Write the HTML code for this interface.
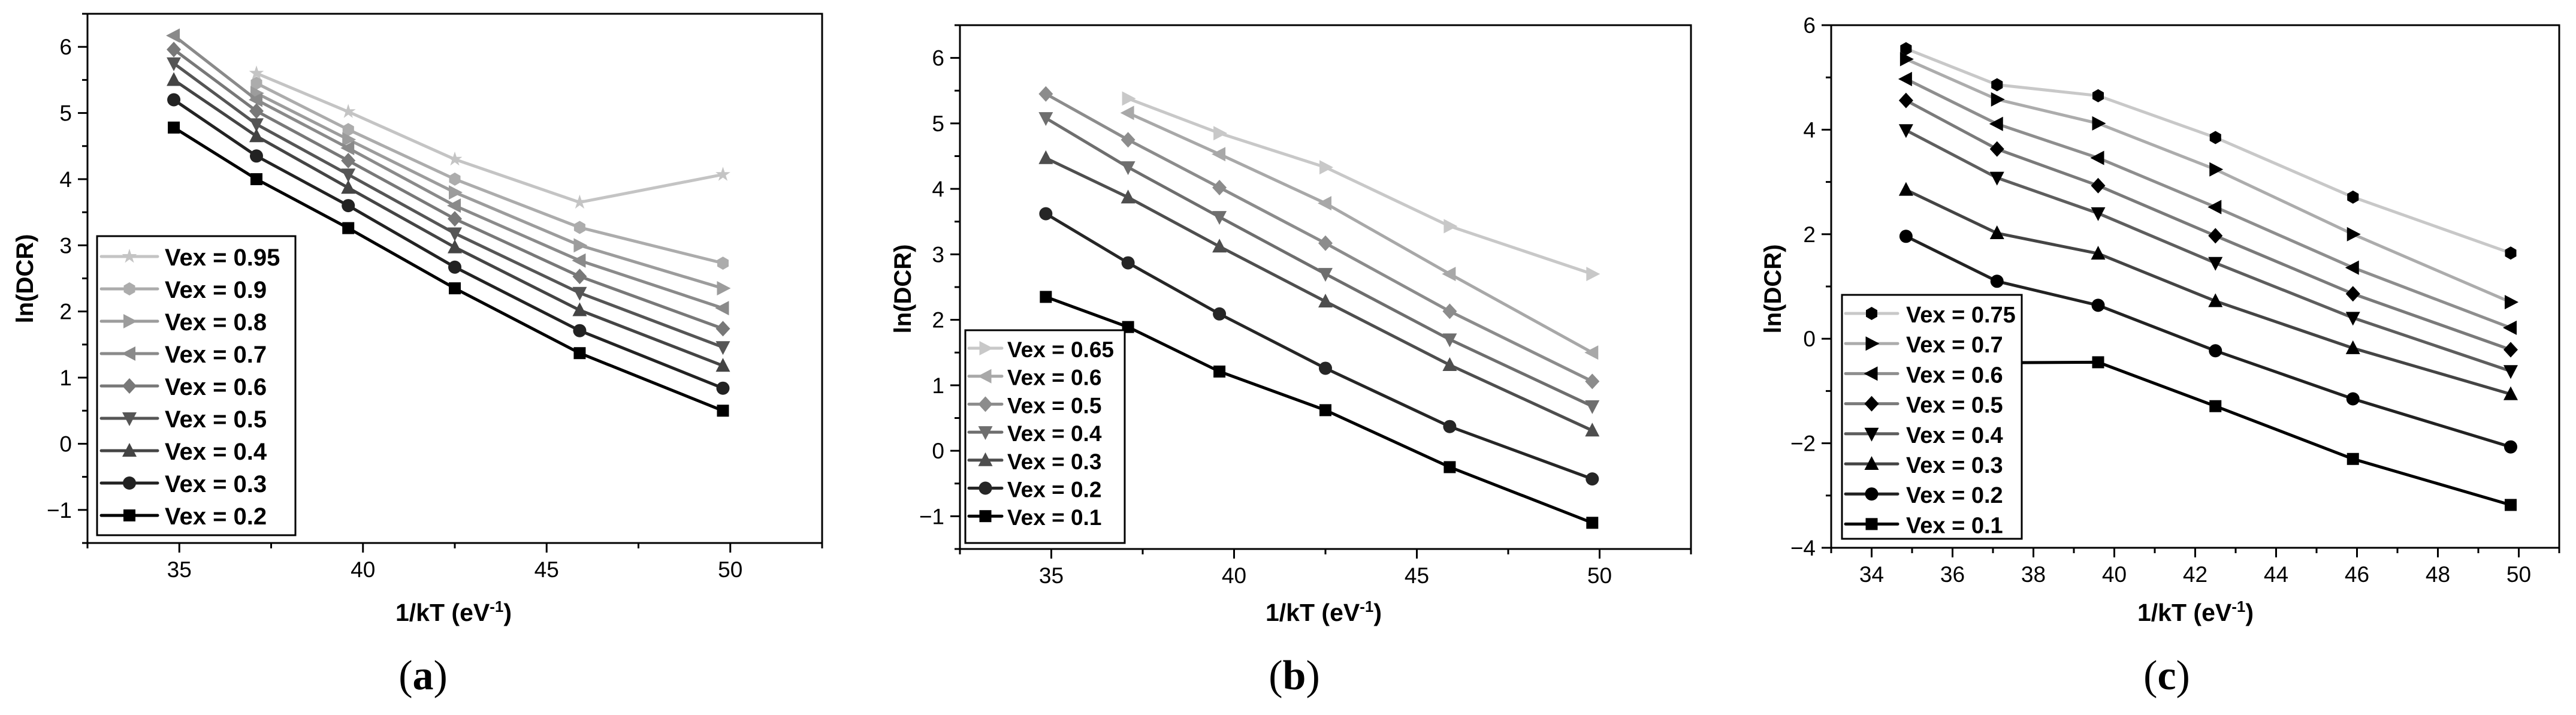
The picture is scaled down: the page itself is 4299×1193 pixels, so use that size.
<!DOCTYPE html>
<html><head><meta charset="utf-8"><style>
html,body{margin:0;padding:0;background:#fff;}
svg{display:block;font-family:"Liberation Sans",sans-serif;}
</style></head><body>
<svg id="fig" width="4299" height="1193" viewBox="0 0 4299 1193" xmlns="http://www.w3.org/2000/svg"></svg>
<script>
const xPts = [34.85, 37.1, 39.6, 42.5, 45.9, 49.8];
// Panel (a)
const aLabels = ["Vex = 0.95","Vex = 0.9","Vex = 0.8","Vex = 0.7","Vex = 0.6","Vex = 0.5","Vex = 0.4","Vex = 0.3","Vex = 0.2"];
const aV095 = [null, 5.6, 5.02, 4.3, 3.65, 4.07];
const aV09  = [null, 5.45, 4.75, 4.0, 3.27, 2.73];
const aV08  = [null, 5.3, 4.6, 3.8, 3.0, 2.35];
const aV07  = [6.17, 5.2, 4.47, 3.6, 2.77, 2.05];
const aV06  = [5.96, 5.03, 4.28, 3.4, 2.53, 1.74];
const aV05  = [5.75, 4.83, 4.07, 3.18, 2.28, 1.46];
const aV04  = [5.5, 4.65, 3.87, 2.97, 2.02, 1.18];
const aV03  = [5.2, 4.35, 3.6, 2.67, 1.71, 0.84];
const aV02  = [4.78, 4.0, 3.26, 2.35, 1.37, 0.5];
const aXTicks = [35, 40, 45, 50];
const aYTicks = [-1, 0, 1, 2, 3, 4, 5, 6];
// Panel (b)
const bLabels = ["Vex = 0.65","Vex = 0.6","Vex = 0.5","Vex = 0.4","Vex = 0.3","Vex = 0.2","Vex = 0.1"];
const bV065 = [null, 5.38, 4.85, 4.33, 3.43, 2.7];
const bV06  = [null, 5.16, 4.53, 3.78, 2.7, 1.5];
const bV05  = [5.45, 4.75, 4.02, 3.17, 2.13, 1.06];
const bV04  = [5.08, 4.33, 3.57, 2.7, 1.7, 0.68];
const bV03  = [4.47, 3.87, 3.12, 2.28, 1.31, 0.31];
const bV02  = [3.62, 2.87, 2.09, 1.26, 0.37, -0.43];
const bV01  = [2.35, 1.89, 1.21, 0.62, -0.25, -1.1];
const bXTicks = [35, 40, 45, 50];
const bYTicks = [-1, 0, 1, 2, 3, 4, 5, 6];
// Panel (c)
const cLabels = ["Vex = 0.75","Vex = 0.7","Vex = 0.6","Vex = 0.5","Vex = 0.4","Vex = 0.3","Vex = 0.2","Vex = 0.1"];
const cV075 = [5.55, 4.86, 4.65, 3.85, 2.71, 1.64];
const cV07  = [5.35, 4.58, 4.12, 3.24, 2.0, 0.7];
const cV06  = [4.97, 4.11, 3.46, 2.52, 1.36, 0.21];
const cV05  = [4.56, 3.63, 2.93, 1.97, 0.86, -0.21];
const cV04  = [3.99, 3.08, 2.4, 1.45, 0.4, -0.62];
const cV03  = [2.85, 2.02, 1.63, 0.72, -0.18, -1.06];
const cV02  = [1.96, 1.1, 0.64, -0.23, -1.15, -2.07];
const cV01  = [-0.5, -0.46, -0.45, -1.29, -2.3, -3.18];
const cXTicks = [34, 36, 38, 40, 42, 44, 46, 48, 50];
const cYTicks = [-4, -2, 0, 2, 4, 6];

const NS = "http://www.w3.org/2000/svg";
const svg = document.getElementById("fig");
function mk(tag, attrs, parent){const e=document.createElementNS(NS,tag);for(const k in attrs)e.setAttribute(k,attrs[k]);(parent||svg).appendChild(e);return e;}

function marker(g, type, cx, cy, col){
  const s=11; let e;
  if(type==="square"){e=mk("rect",{x:cx-s+1,y:cy-s+1,width:2*s-2,height:2*s-2,fill:col},g);}
  else if(type==="circle"){e=mk("circle",{cx:cx,cy:cy,r:s,fill:col},g);}
  else if(type==="up"){e=mk("polygon",{points:`${cx},${cy-s-2} ${cx+s+1},${cy+s-1} ${cx-s-1},${cy+s-1}`,fill:col},g);}
  else if(type==="down"){e=mk("polygon",{points:`${cx},${cy+s+2} ${cx+s+1},${cy-s+1} ${cx-s-1},${cy-s+1}`,fill:col},g);}
  else if(type==="left"){e=mk("polygon",{points:`${cx-s-2},${cy} ${cx+s-1},${cy-s-1} ${cx+s-1},${cy+s+1}`,fill:col},g);}
  else if(type==="right"){e=mk("polygon",{points:`${cx+s+2},${cy} ${cx-s+1},${cy-s-1} ${cx-s+1},${cy+s+1}`,fill:col},g);}
  else if(type==="diamond"){e=mk("polygon",{points:`${cx},${cy-s-2} ${cx+s+1},${cy} ${cx},${cy+s+2} ${cx-s-1},${cy}`,fill:col},g);}
  else if(type==="hex"){let p=[];for(let i=0;i<6;i++){const a=Math.PI/3*i+Math.PI/6;p.push((cx+s*Math.cos(a)).toFixed(1)+","+(cy+s*Math.sin(a)).toFixed(1));}e=mk("polygon",{points:p.join(" "),fill:col},g);}
  else if(type==="star"){let p=[];for(let i=0;i<10;i++){const r=i%2?s*0.45:s+2;const a=-Math.PI/2+Math.PI/5*i;p.push((cx+r*Math.cos(a)).toFixed(1)+","+(cy+r*Math.sin(a)).toFixed(1));}e=mk("polygon",{points:p.join(" "),fill:col},g);}
  
  
}

function panel(cfg){
  const g=mk("g",{});
  
  
  const L=cfg.left,R=cfg.right,T=cfg.top,B=cfg.bottom;
  const sx=v=>L+(v-cfg.xmin)/(cfg.xmax-cfg.xmin)*(R-L);
  const sy=v=>B-(v-cfg.ymin)/(cfg.ymax-cfg.ymin)*(B-T);
  cfg.series.forEach((s,i)=>{
    const sg=mk("g",{},g);
    
    
    let d="";
    s.vals.forEach((v,j)=>{ if(v===null) return; d+=(d?"L":"M")+sx(xPts[j]).toFixed(1)+","+sy(v).toFixed(1); });
    const p=mk("path",{d:d,fill:"none",stroke:s.col,"stroke-width":5,"stroke-linejoin":"round"},sg);
    
    
    s.vals.forEach((v,j)=>{ if(v===null) return; marker(sg,s.m,sx(xPts[j]),sy(v),cfg.blackMarkers?"#000":s.col); });
  });
  const fr=mk("rect",{x:L,y:T,width:R-L,height:B-T,fill:"none",stroke:"#000","stroke-width":3},g);
  
  
  cfg.xTicks.forEach(t=>{
    const x=sx(t);
    mk("line",{x1:x,y1:B,x2:x,y2:B+16,stroke:"#000","stroke-width":3},g);
    const tx=mk("text",{x:x,y:B+57,"font-size":37,"text-anchor":"middle"},g);
    tx.textContent=t;
    
    
  });
  for(let v=cfg.xmin;v<=cfg.xmax+1e-9;v+=cfg.xminor){
    if(cfg.xTicks.some(t=>Math.abs(t-v)<1e-6)) continue;
    mk("line",{x1:sx(v),y1:B,x2:sx(v),y2:B+9,stroke:"#000","stroke-width":3},g);
  }
  cfg.yTicks.forEach(t=>{
    const y=sy(t);
    mk("line",{x1:L-16,y1:y,x2:L,y2:y,stroke:"#000","stroke-width":3},g);
    const tx=mk("text",{x:L-26,y:y+13,"font-size":37,"text-anchor":"end"},g);
    tx.textContent=(t<0?"\u2212"+(-t):t);
    
    
  });
  for(let v=cfg.ymin;v<=cfg.ymax+1e-9;v+=cfg.yminor){
    if(cfg.yTicks.some(t=>Math.abs(t-v)<1e-6)) continue;
    mk("line",{x1:L-9,y1:sy(v),x2:L,y2:sy(v),stroke:"#000","stroke-width":3},g);
  }
  const yt=mk("text",{x:0,y:0,"font-size":40,"font-weight":"bold","text-anchor":"middle",transform:`translate(${cfg.ytx},${cfg.yty}) rotate(-90)`},g);
  yt.textContent="ln(DCR)";
  
  
  const xt=mk("text",{x:cfg.xtx,y:1036,"font-size":41,"font-weight":"bold","text-anchor":"middle"},g);
  xt.innerHTML='1/kT (eV<tspan dy="-15" font-size="26">-1</tspan><tspan dy="15">)</tspan>';
  
  
  const lg=mk("g",{},g);
  
  
  const lb=mk("rect",{x:cfg.lg.l,y:cfg.lg.t,width:cfg.lg.r-cfg.lg.l,height:cfg.lg.b-cfg.lg.t,fill:"#fff",stroke:"#000","stroke-width":3},lg);
  
  
  cfg.series.forEach((s,i)=>{
    const y=cfg.lg.y0+i*cfg.lg.dy;
    const eg=mk("g",{},lg);
    
    
    mk("line",{x1:cfg.lg.lx1,y1:y,x2:cfg.lg.lx2,y2:y,stroke:s.col,"stroke-width":5,"stroke-linecap":"round"},eg);
    marker(eg,s.m,(cfg.lg.lx1+cfg.lg.lx2)/2,y,cfg.blackMarkers?"#000":s.col);
    const t=mk("text",{x:cfg.lg.tx,y:y+15,"font-size":cfg.lg.fs,"font-weight":"bold"},eg);
    t.textContent=cfg.labels[i];
    
    
  });
  const cap=mk("text",{x:cfg.capx,y:1150,"font-size":70,"font-family":"Liberation Serif, serif","text-anchor":"middle"},g);
  cap.innerHTML='(<tspan font-weight="bold">'+cfg.id+'</tspan>)';
  
  
}

panel({id:"a",left:146,right:1372,top:23,bottom:906,xmin:32.5,xmax:52.5,ymin:-1.5,ymax:6.5,xminor:2.5,yminor:0.5,
  xTicks:aXTicks,yTicks:aYTicks,labels:aLabels,ytx:55,yty:465,xtx:757,capx:706,
  series:[{vals:aV095,col:"#c4c4c4",m:"star"},{vals:aV09,col:"#acacac",m:"hex"},{vals:aV08,col:"#9c9c9c",m:"right"},
    {vals:aV07,col:"#8a8a8a",m:"left"},{vals:aV06,col:"#787878",m:"diamond"},{vals:aV05,col:"#555",m:"down"},
    {vals:aV04,col:"#444",m:"up"},{vals:aV03,col:"#222",m:"circle"},{vals:aV02,col:"#000",m:"square"}],
  lg:{l:162,r:493,t:394,b:893,y0:428,dy:54,lx1:169,lx2:263,tx:275,fs:40}});

panel({id:"b",left:1602,right:2822,top:42,bottom:916,xmin:32.5,xmax:52.5,ymin:-1.5,ymax:6.5,xminor:2.5,yminor:0.5,
  xTicks:bXTicks,yTicks:bYTicks,labels:bLabels,ytx:1520,yty:482,xtx:2209,capx:2160,
  series:[{vals:bV065,col:"#c8c8c8",m:"right"},{vals:bV06,col:"#a8a8a8",m:"left"},{vals:bV05,col:"#8c8c8c",m:"diamond"},
    {vals:bV04,col:"#6e6e6e",m:"down"},{vals:bV03,col:"#4e4e4e",m:"up"},{vals:bV02,col:"#262626",m:"circle"},{vals:bV01,col:"#000",m:"square"}],
  lg:{l:1611,r:1877,t:551,b:906,y0:581,dy:46.7,lx1:1617,lx2:1672,tx:1681,fs:37}});

panel({id:"c",left:3056,right:4271,top:42,bottom:914,xmin:33,xmax:51,ymin:-4,ymax:6,xminor:1,yminor:1,
  xTicks:cXTicks,yTicks:cYTicks,labels:cLabels,ytx:2972,yty:482,xtx:3664,capx:3616,blackMarkers:true,
  series:[{vals:cV075,col:"#c8c8c8",m:"hex"},{vals:cV07,col:"#acacac",m:"right"},{vals:cV06,col:"#8e8e8e",m:"left"},
    {vals:cV05,col:"#7a7a7a",m:"diamond"},{vals:cV04,col:"#5e5e5e",m:"down"},{vals:cV03,col:"#444",m:"up"},
    {vals:cV02,col:"#222",m:"circle"},{vals:cV01,col:"#000",m:"square"}],
  lg:{l:3074,r:3374,t:492,b:899,y0:523,dy:50.2,lx1:3080,lx2:3167,tx:3181,fs:38}});
</script>
</body></html>
